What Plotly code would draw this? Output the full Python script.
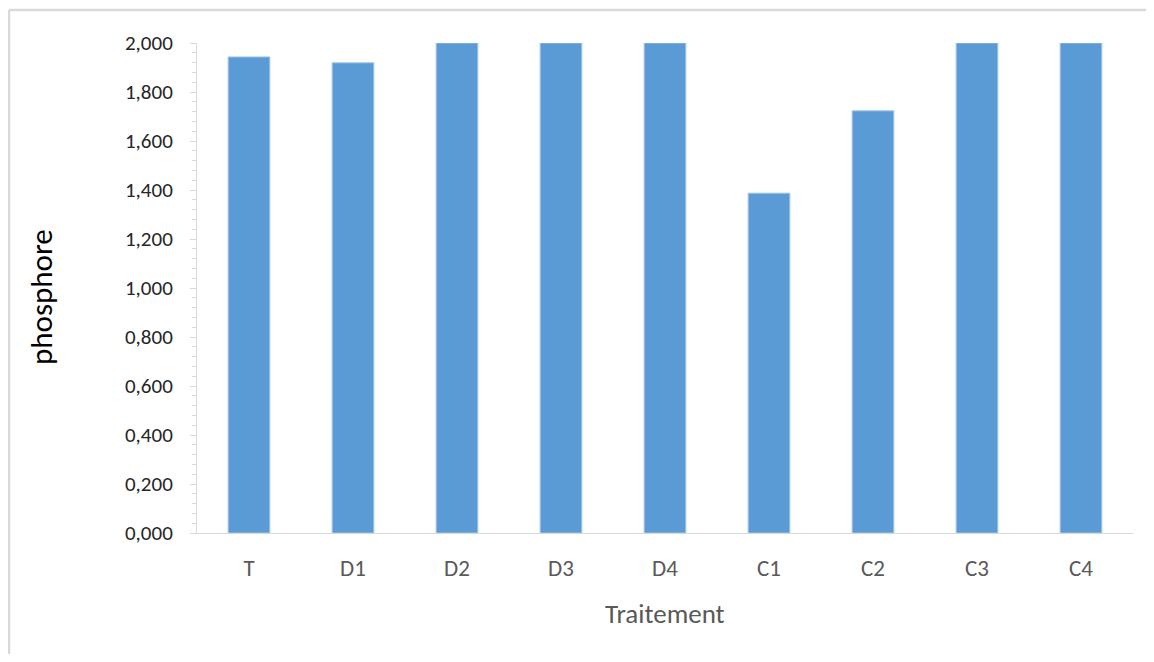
import plotly.graph_objects as go

categories = ["T", "D1", "D2", "D3", "D4", "C1", "C2", "C3", "C4"]
phosphore = [1.943, 1.919, 2.0, 2.0, 2.0, 1.387, 1.723, 2.0, 2.0]

OFF = 8  # page body margin
W, H = 1154 - 2 * OFF, 662 - 2 * OFF
L, T = 197 - OFF, 43 - OFF
R = (OFF + W) - 1133
B = (OFF + H) - 533
pw, ph = W - L - R, H - T - B

def px(x):
    # page pixel -> paper fraction
    return (x - OFF - L) / pw

def py(y):
    return (H - B - (y - OFF)) / ph

FONT = "Carlito, Calibri, Lato, sans-serif"

fig = go.Figure(go.Bar(
    x=categories, y=phosphore, width=0.4,
    marker=dict(color="#5B9BD5", line=dict(color="#9DC3E6", width=1)),
))

fig.update_layout(
    width=W, height=H, margin=dict(l=L, r=R, t=T, b=B),
    paper_bgcolor="white", plot_bgcolor="white",
    separators=", ", showlegend=False,
    font=dict(family=FONT),
)
fig.update_yaxes(
    range=[0, 2], dtick=0.2, tickformat=".3f",
    showgrid=False, zeroline=False,
    showline=True, linecolor="#D9D9D9", linewidth=1,
    ticks="outside", ticklen=6, tickcolor="#D9D9D9", tickwidth=1,
    minor=dict(dtick=0.04, ticks="outside", ticklen=4, tickcolor="#D9D9D9", tickwidth=1),
    tickfont=dict(family=FONT, size=21, color="#262626"),
    ticklabelstandoff=13,
)
fig.update_xaxes(
    showgrid=False, showline=True, linecolor="#D9D9D9", linewidth=1,
    ticks="", tickfont=dict(family=FONT, size=23, color="#595959"),
    ticklabelstandoff=14,
)

fig.add_annotation(text="Traitement", xref="paper", yref="paper",
                   x=px(665), y=py(613), xanchor="center", yanchor="middle",
                   showarrow=False,
                   font=dict(family=FONT, size=27, color="#595959"))
fig.add_annotation(text="phosphore", xref="paper", yref="paper",
                   x=px(41), y=py(297), xanchor="center", yanchor="middle",
                   showarrow=False, textangle=-90,
                   font=dict(family=FONT, size=31, color="#000000"))

border = dict(color="#D9D9D9", width=2.5)
fig.add_shape(type="line", xref="paper", yref="paper",
              x0=px(9), x1=px(1154), y0=py(10), y1=py(10), line=border)
fig.add_shape(type="line", xref="paper", yref="paper",
              x0=px(9), x1=px(9), y0=py(10), y1=py(654), line=border)

fig.write_html("out.html", config={"displayModeBar": False})
